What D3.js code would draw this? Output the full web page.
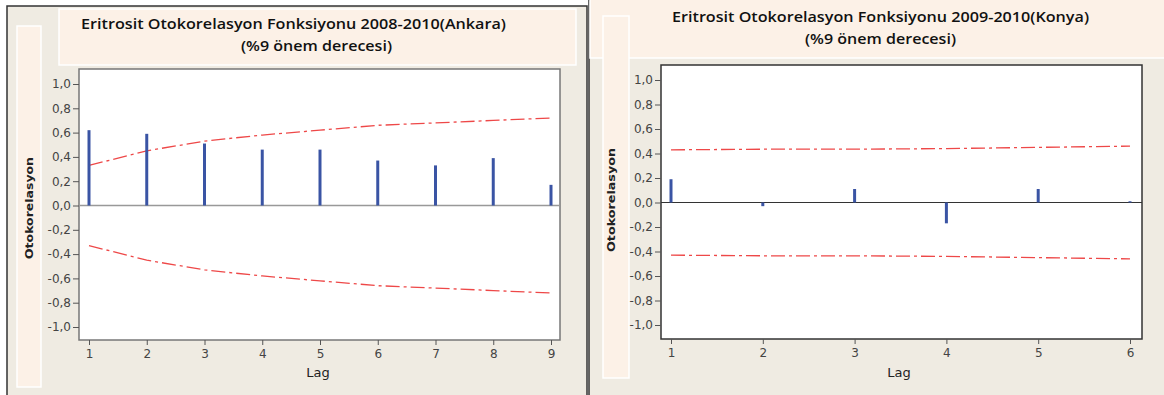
<!DOCTYPE html>
<html>
<head>
<meta charset="utf-8">
<script src="https://cdn.jsdelivr.net/npm/d3@7"></script>
<style>
  body { margin: 0; background: #fff; }
  svg { display: block; }
</style>
</head>
<body>
<div id="chart"></div>
<script>
const yTicks = [1.0, 0.8, 0.6, 0.4, 0.2, 0.0, -0.2, -0.4, -0.6, -0.8, -1.0];

const ankaraLags = [1, 2, 3, 4, 5, 6, 7, 8, 9];
const ankaraAcf = [0.62, 0.59, 0.51, 0.46, 0.46, 0.37, 0.33, 0.39, 0.17];
const ankaraLimit = [0.33, 0.45, 0.53, 0.58, 0.62, 0.66, 0.68, 0.70, 0.72];

const konyaLags = [1, 2, 3, 4, 5, 6];
const konyaAcf = [0.19, -0.03, 0.11, -0.17, 0.11, 0.01];
const konyaLimit = [0.43, 0.435, 0.435, 0.44, 0.45, 0.46];

const width = 1164;
const height = 395;

const svg = d3.select("#chart").append("svg")
    .attr("width", width)
    .attr("height", height);

svg.append("rect").attr("width", width).attr("height", height).attr("fill", "#fff");

const beige = "#efebe2";
const peach = "#fcf1e7";
const fmt = d => d3.format(".1f")(d).replace(".", ",").replace("−", "-");

function drawPanel(p) {
    const g = svg.append("g");

    // panel background and frame
    g.append("rect")
        .attr("x", p.frame[0]).attr("y", p.frame[1])
        .attr("width", p.frame[2]).attr("height", p.frame[3])
        .attr("fill", beige).attr("stroke", "#333").attr("stroke-width", 1.5);

    // title box
    g.append("rect")
        .attr("x", p.titleBox[0]).attr("y", p.titleBox[1])
        .attr("width", p.titleBox[2]).attr("height", p.titleBox[3])
        .attr("fill", peach).attr("stroke", "#fff").attr("stroke-width", 1.5);

    // y label box
    g.append("rect")
        .attr("x", p.labelBox[0]).attr("y", p.labelBox[1])
        .attr("width", p.labelBox[2]).attr("height", p.labelBox[3])
        .attr("fill", peach).attr("stroke", "#fff").attr("stroke-width", 1.5);

    g.append("text")
        .attr("x", p.title1[0]).attr("y", p.title1[1])
        .attr("font-family", "'Open Sans', sans-serif").attr("font-weight", 600)
        .attr("font-size", 15).attr("fill", "#111")
        .attr("textLength", p.title1[2]).attr("lengthAdjust", "spacingAndGlyphs")
        .text(p.title);
    g.append("text")
        .attr("x", p.title2[0]).attr("y", p.title2[1])
        .attr("font-family", "'Open Sans', sans-serif").attr("font-weight", 600)
        .attr("font-size", 15).attr("fill", "#111")
        .attr("textLength", p.title2[2]).attr("lengthAdjust", "spacingAndGlyphs")
        .text("(%9 önem derecesi)");

    const [px, py, pw, ph] = p.plot;
    const x = d3.scaleLinear().domain(d3.extent(p.lags)).range(p.xRange);
    const y = d3.scaleLinear().domain([-1, 1]).range(p.yRange);

    g.append("rect")
        .attr("x", px).attr("y", py).attr("width", pw).attr("height", ph)
        .attr("fill", "#fff").attr("stroke", p.borderColor).attr("stroke-width", 1.5);

    // y axis
    const yAxis = g.append("g")
        .attr("transform", `translate(${px},0)`)
        .call(d3.axisLeft(y).tickValues(yTicks).tickFormat(fmt).tickSize(6).tickPadding(2));
    yAxis.select(".domain").remove();

    // x axis
    const xAxis = g.append("g")
        .attr("transform", `translate(0,${py + ph})`)
        .call(d3.axisBottom(x).tickValues(p.lags).tickFormat(d3.format("d")).tickSize(5).tickPadding(4));
    xAxis.select(".domain").remove();

    g.selectAll(".tick line").attr("stroke", "#555");
    g.selectAll(".tick text")
        .attr("font-family", "'DejaVu Sans', sans-serif")
        .attr("font-size", 12).attr("fill", "#444");

    // zero line
    g.append("line")
        .attr("x1", px).attr("x2", px + pw)
        .attr("y1", y(0)).attr("y2", y(0))
        .attr("stroke", p.zeroColor).attr("stroke-width", p.zeroWidth);

    // significance limits
    const line = d3.line().x((d, i) => x(p.lags[i])).y(d => y(d));
    [1, -1].forEach(s => {
        g.append("path")
            .datum(p.limit.map(v => v * s))
            .attr("d", line)
            .attr("fill", "none")
            .attr("stroke", "#ee4848")
            .attr("stroke-width", 1.3)
            .attr("stroke-dasharray", "14,4,3,4");
    });

    // acf bars
    g.selectAll(".bar")
        .data(p.acf)
        .join("line")
        .attr("x1", (d, i) => x(p.lags[i]))
        .attr("x2", (d, i) => x(p.lags[i]))
        .attr("y1", y(0))
        .attr("y2", d => y(d))
        .attr("stroke", "#3a54a4")
        .attr("stroke-width", 3);

    // axis titles
    g.append("text")
        .attr("x", p.lagPos[0]).attr("y", p.lagPos[1])
        .attr("text-anchor", "middle")
        .attr("font-family", "'DejaVu Sans', sans-serif")
        .attr("font-size", 13).attr("fill", "#222")
        .text("Lag");

    g.append("text")
        .attr("transform", `translate(${p.yLabelPos[0]},${p.yLabelPos[1]}) rotate(-90)`)
        .attr("text-anchor", "middle")
        .attr("font-family", "'DejaVu Sans', sans-serif")
        .attr("font-weight", "bold")
        .attr("font-size", 10).attr("fill", "#222")
        .attr("textLength", p.yLabelPos[2]).attr("lengthAdjust", "spacingAndGlyphs")
        .text("Otokorelasyon");
}

drawPanel({
    frame: [7, 6, 580, 392],
    titleBox: [59, 9, 517, 56],
    labelBox: [17, 26, 24, 361],
    title: "Eritrosit Otokorelasyon Fonksiyonu 2008-2010(Ankara)",
    title1: [81, 29, 425],
    title2: [241, 51, 151],
    plot: [79, 69, 481, 271],
    xRange: [89, 551],
    yRange: [327, 84],
    borderColor: "#777",
    zeroColor: "#999",
    zeroWidth: 1.5,
    lags: ankaraLags,
    acf: ankaraAcf,
    limit: ankaraLimit,
    lagPos: [318, 377],
    yLabelPos: [33, 208, 102]
});

drawPanel({
    frame: [589, 0, 580, 400],
    titleBox: [590, -2, 580, 60],
    labelBox: [603, 16, 26, 362],
    title: "Eritrosit Otokorelasyon Fonksiyonu 2009-2010(Konya)",
    title1: [672, 22, 417],
    title2: [805, 44, 151],
    plot: [661, 65, 481, 274],
    xRange: [671, 1130],
    yRange: [325, 80],
    borderColor: "#333",
    zeroColor: "#333",
    zeroWidth: 1,
    lags: konyaLags,
    acf: konyaAcf,
    limit: konyaLimit,
    lagPos: [899, 377],
    yLabelPos: [615, 200, 104]
});
</script>
</body>
</html>
